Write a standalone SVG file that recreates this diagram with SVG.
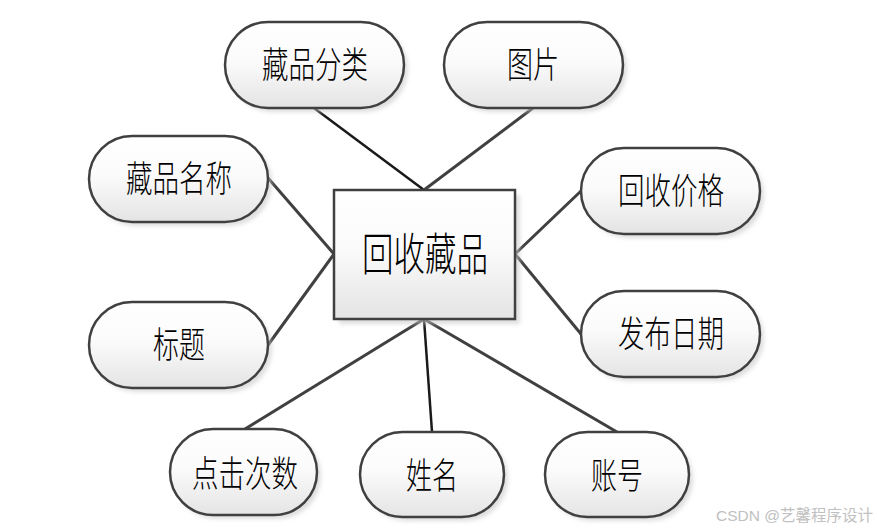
<svg xmlns="http://www.w3.org/2000/svg" width="877" height="531" viewBox="0 0 877 531">
<defs>
<linearGradient id="g" x1="0" y1="0" x2="0" y2="1">
<stop offset="0" stop-color="#ffffff"/>
<stop offset="0.45" stop-color="#fbfbfb"/>
<stop offset="1" stop-color="#e4e4e4"/>
</linearGradient>
<filter id="sh" x="-10%" y="-10%" width="130%" height="130%">
<feGaussianBlur stdDeviation="2"/>
</filter>
<style>
.n{fill:url(#g);stroke:#404040;stroke-width:2.5}
.s{fill:#c8c8c8;opacity:0.6;filter:url(#sh)}
.t{font-family:"Noto Sans CJK SC","Noto Sans",sans-serif;font-size:36px;font-weight:300;fill:#000;text-anchor:middle}
.c{stroke:#1a1a1a;stroke-width:2.5;fill:none}
.c2{stroke:#404040;stroke-width:3;fill:none}
</style>
</defs>
<rect width="877" height="531" fill="#fff"/>
<g id="connectors">
<line class="c" x1="314" y1="108" x2="424" y2="190"/>
<line class="c2" x1="533" y1="108" x2="424" y2="190"/>
<line class="c2" x1="268" y1="178" x2="334" y2="254"/>
<line class="c2" x1="268" y1="345" x2="334" y2="254"/>
<line class="c2" x1="581" y1="191" x2="515" y2="254"/>
<line class="c2" x1="581" y1="334" x2="515" y2="254"/>
<line class="c2" x1="245" y1="429" x2="424" y2="319"/>
<line class="c" x1="432" y1="432" x2="424" y2="319"/>
<line class="c2" x1="617" y1="432" x2="424" y2="319"/>
</g>
<g id="center">
<rect class="s" x="339" y="195" width="181" height="129"/>
<rect class="n" x="334" y="190" width="181" height="129"/>
<text class="t" x="425" y="271" style="font-size:45px" textLength="126" lengthAdjust="spacingAndGlyphs">回收藏品</text>
</g>
<g id="n1">
<rect class="s" x="229" y="26" width="179" height="86" rx="43"/>
<rect class="n" x="225" y="22" width="179" height="86" rx="43"/>
<text class="t" x="315" y="78" textLength="106" lengthAdjust="spacingAndGlyphs">藏品分类</text>
</g>
<g id="n2">
<rect class="s" x="448" y="26" width="179" height="86" rx="43"/>
<rect class="n" x="444" y="22" width="179" height="86" rx="43"/>
<text class="t" x="533" y="78" textLength="52" lengthAdjust="spacingAndGlyphs">图片</text>
</g>
<g id="n3">
<rect class="s" x="93" y="140" width="179" height="86" rx="43"/>
<rect class="n" x="89" y="136" width="179" height="86" rx="43"/>
<text class="t" x="179" y="192" textLength="106" lengthAdjust="spacingAndGlyphs">藏品名称</text>
</g>
<g id="n4">
<rect class="s" x="585" y="152" width="179" height="86" rx="43"/>
<rect class="n" x="581" y="148" width="179" height="86" rx="43"/>
<text class="t" x="671" y="204" textLength="106" lengthAdjust="spacingAndGlyphs">回收价格</text>
</g>
<g id="n5">
<rect class="s" x="93" y="306" width="179" height="86" rx="43"/>
<rect class="n" x="89" y="302" width="179" height="86" rx="43"/>
<text class="t" x="179" y="358" textLength="52" lengthAdjust="spacingAndGlyphs">标题</text>
</g>
<g id="n6">
<rect class="s" x="585" y="295" width="179" height="86" rx="43"/>
<rect class="n" x="581" y="291" width="179" height="86" rx="43"/>
<text class="t" x="671" y="347" textLength="106" lengthAdjust="spacingAndGlyphs">发布日期</text>
</g>
<g id="n7">
<rect class="s" x="174" y="433" width="147" height="86" rx="43"/>
<rect class="n" x="170" y="429" width="147" height="86" rx="43"/>
<text class="t" x="245" y="487" textLength="106" lengthAdjust="spacingAndGlyphs">点击次数</text>
</g>
<g id="n8">
<rect class="s" x="364" y="436" width="144" height="85" rx="42.5"/>
<rect class="n" x="360" y="432" width="144" height="85" rx="42.5"/>
<text class="t" x="432" y="489" textLength="52" lengthAdjust="spacingAndGlyphs">姓名</text>
</g>
<g id="n9">
<rect class="s" x="549" y="436" width="144" height="85" rx="42.5"/>
<rect class="n" x="545" y="432" width="144" height="85" rx="42.5"/>
<text class="t" x="617" y="489" textLength="52" lengthAdjust="spacingAndGlyphs">账号</text>
</g>
<text x="873" y="521" style="font-family:'Liberation Sans','Noto Sans CJK SC',sans-serif;font-size:15.5px;fill:#c0c0c0;text-anchor:end">CSDN @艺馨程序设计</text>
</svg>
